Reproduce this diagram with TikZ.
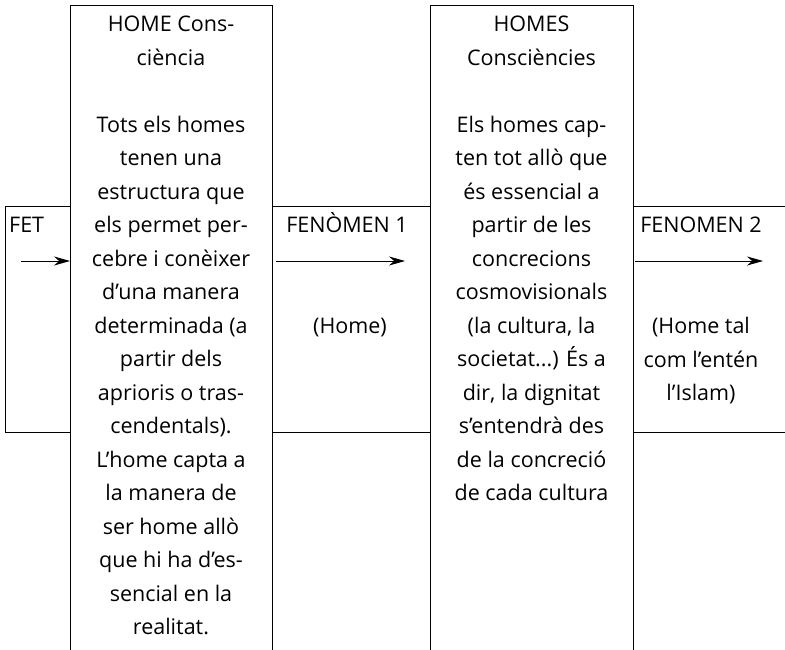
\documentclass[tikz,border=0pt]{standalone}
\usepackage{fontspec}
\setmainfont{Open Sans}
\usetikzlibrary{arrows.meta}
\newcommand\cblock[2]{\parbox[t]{#1}{\centering #2}}
\begin{document}
\begin{tikzpicture}[x=1pt,y=-1pt,
  frame/.style={line width=0.9pt},
  conn/.style={-{Stealth[length=16pt,width=9pt]}, line width=0.8pt},
  lbl/.style={font=\fontsize{21.5}{33.5}\selectfont, inner sep=0pt}]
\useasboundingbox (0,0) rectangle (785,650);
% tall boxes (open at the bottom)
\draw[frame] (70,650) -- (70,5) -- (272,5) -- (272,650);
\draw[frame] (430,650) -- (430,5) -- (633,5) -- (633,650);
% horizontal band
\draw[frame] (70,206) -- (5,206) -- (5,432) -- (70,432);
\draw[frame] (272,206) -- (430,206);
\draw[frame] (272,432) -- (430,432);
\draw[frame] (633,206) -- (785,206);
\draw[frame] (633,432) -- (785,432);
% box texts
\node[lbl, anchor=base] (t1) at (171,32) {\cblock{200pt}{HOME Cons-\\ciència\\[33.5pt]Tots els homes\\tenen una\\estructura que\\els permet per-\\cebre i conèixer\\d’una manera\\determinada (a\\partir dels\\aprioris o tras-\\cendentals).\\L’home capta a\\la manera de\\ser home allò\\que hi ha d’es-\\sencial en la\\realitat.}};
\node[lbl, anchor=base] (t2) at (531.5,32) {\cblock{200pt}{HOMES\\Consciències\\[33.5pt]Els homes cap-\\ten tot allò que\\és essencial a\\partir de les\\concrecions\\cosmovisionals\\(la cultura, la\\societat...) És a\\dir, la dignitat\\s’entendrà des\\de la concreció\\de cada cultura}};
% band texts
\node[lbl, anchor=base west] (fet) at (9,233) {FET};
\node[lbl, anchor=base] (f1) at (347,233) {FENÒMEN 1};
\node[lbl, anchor=base] (h1) at (350,333.5) {(Home)};
\node[lbl, anchor=base] (f2) at (701,233) {FENOMEN 2};
\node[lbl, anchor=base] (h2) at (701,333.5) {\cblock{150pt}{(Home tal\\com l’entén\\l’Islam)}};
% arrows
\coordinate (a0s) at (21,261);  \coordinate (a0e) at (70,261);
\coordinate (a1s) at (276,261); \coordinate (a1e) at (405,261);
\coordinate (a2s) at (635,261); \coordinate (a2e) at (763,261);
\draw[conn] (a0s) -- (a0e);
\draw[conn] (a1s) -- (a1e);
\draw[conn] (a2s) -- (a2e);
\end{tikzpicture}
\end{document}
